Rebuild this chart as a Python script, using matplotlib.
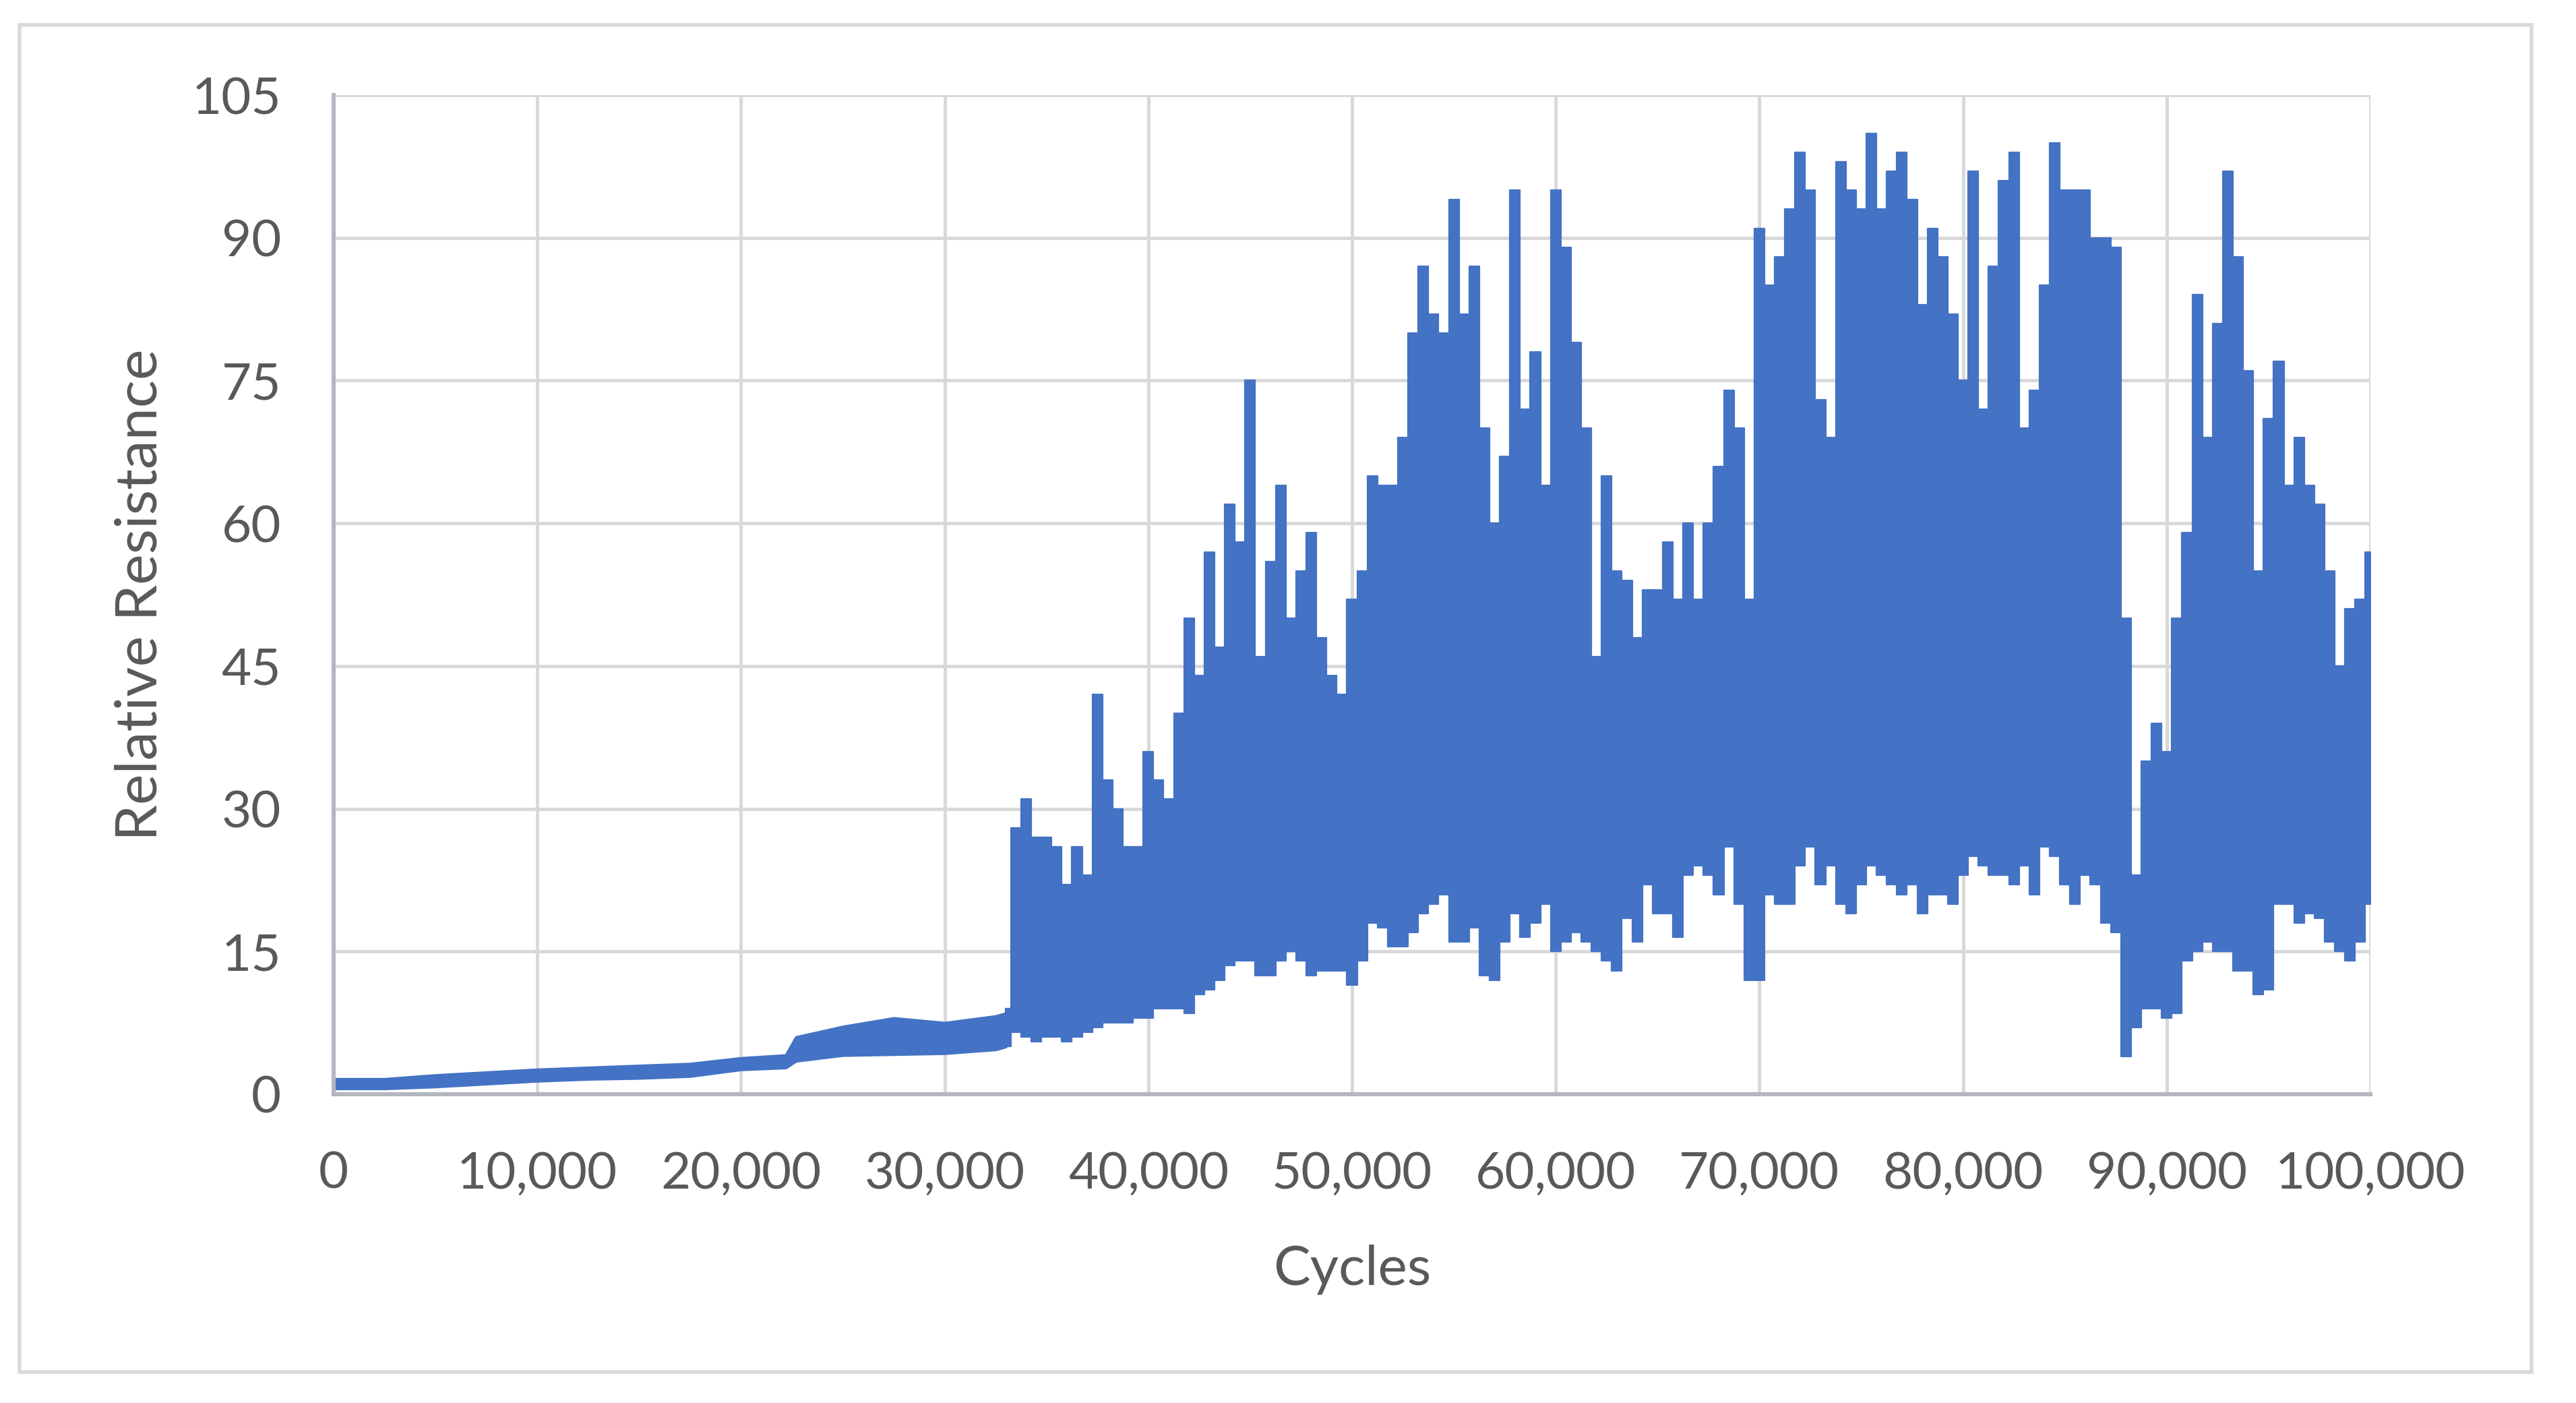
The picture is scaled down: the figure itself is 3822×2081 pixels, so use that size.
import numpy as np
import matplotlib.pyplot as plt
from matplotlib.patches import Rectangle
from matplotlib.ticker import FuncFormatter

plt.rcParams['font.family'] = 'Lato'

# Early part of the test (slow drift), band
early_cycles = [0, 2500, 5000, 7500, 10000, 12500, 15000, 17500, 20000,
                22200, 22700, 25000, 27500, 30000, 32500, 33000]
early_high = [1.6, 1.6, 2.0, 2.3, 2.6, 2.8, 3.0, 3.2, 3.8,
              4.1, 6.0, 7.1, 8.0, 7.5, 8.2, 8.5]
early_low = [0.6, 0.6, 0.8, 1.1, 1.4, 1.6, 1.7, 1.9, 2.6,
             2.8, 3.5, 4.1, 4.2, 4.3, 4.7, 5.0]

# After 33,000 cycles: upper / lower extent every 500 cycles
cycles = np.arange(33000, 100001, 500)
peak = [9, 28, 31, 27, 27, 26, 22, 26, 23,
        42, 33, 30, 26, 26, 36, 33, 31, 40,
        50, 44, 57, 47, 62, 58, 75, 46, 56,
        64, 50, 55, 59, 48, 44, 42, 52, 55,
        65, 64, 64, 69, 80, 87, 82, 80, 94,
        82, 87, 70, 60, 67, 95, 72, 78, 64,
        95, 89, 79, 70, 46, 65, 55, 54, 48,
        53, 53, 58, 52, 60, 52, 60, 66, 74,
        70, 52, 91, 85, 88, 93, 99, 95, 73,
        69, 98, 95, 93, 101, 93, 97, 99, 94,
        83, 91, 88, 82, 75, 97, 72, 87, 96,
        99, 70, 74, 85, 100, 95, 95, 95, 90,
        90, 89, 50, 23, 35, 39, 36, 50, 59,
        84, 69, 81, 97, 88, 76, 55, 71, 77,
        64, 69, 64, 62, 55, 45, 51, 52, 57]
trough = [5, 6.5, 6, 5.5, 6, 6, 5.5, 6, 6.5,
          7, 7.5, 7.5, 7.5, 8, 8, 9, 9, 9,
          8.5, 10.5, 11, 12, 13.5, 14, 14, 12.5, 12.5,
          14, 15, 14, 12.5, 13, 13, 13, 11.5, 14,
          18, 17.5, 15.5, 15.5, 17, 19, 20, 21, 16,
          16, 17.5, 12.5, 12, 16, 19, 16.5, 18, 20,
          15, 16, 17, 16, 15, 14, 13, 18.5, 16,
          22, 19, 19, 16.5, 23, 24, 23, 21, 26,
          20, 12, 12, 21, 20, 20, 24, 26, 22,
          24, 20, 19, 22, 24, 23, 22, 21, 22,
          19, 21, 21, 20, 23, 25, 24, 23, 23,
          22, 24, 21, 26, 25, 22, 20, 23, 22,
          18, 17, 4, 7, 9, 9, 8, 8.5, 14,
          15, 16, 15, 15, 13, 13, 10.5, 11, 20,
          20, 18, 19, 18.5, 16, 15, 14, 16, 20]

blue = '#4472C4'
text_col = '#595959'

fig = plt.figure(figsize=(19.11, 10.405), dpi=200)
ax = fig.add_axes([0.1295, 0.2201, 0.7907, 0.7121])

ax.fill_between(early_cycles, early_low, early_high, color=blue, lw=1.5, edgecolor=blue)
ax.fill_between(cycles, trough, peak, step='mid', color=blue, lw=0.8, edgecolor=blue)

ax.set_xlim(0, 100000)
ax.set_ylim(0, 105)
ax.set_xticks(np.arange(0, 100001, 10000))
ax.set_yticks(np.arange(0, 106, 15))
ax.xaxis.set_major_formatter(FuncFormatter(lambda v, p: f'{int(v):,}'))

ax.set_axisbelow(True)
ax.grid(True, color='#d9d9d9', lw=1.8)
for s in ['top', 'right']:
    ax.spines[s].set_visible(False)
for s in ['left', 'bottom']:
    ax.spines[s].set_color('#b4b7bf')
    ax.spines[s].set_linewidth(2.2)

ax.tick_params(length=0, labelsize=27.5, labelcolor=text_col)
ax.tick_params(axis='x', pad=30)
ax.tick_params(axis='y', pad=28)

ax.set_xlabel('Cycles', fontsize=29.5, color=text_col)
ax.set_ylabel('Relative Resistance', fontsize=31, color=text_col)
ax.xaxis.set_label_coords(0.5, -0.15)
ax.yaxis.set_label_coords(-0.082, 0.5)

fig.patches.append(Rectangle((0.0076, 0.022), 0.9751, 0.960, transform=fig.transFigure,
                             fill=False, edgecolor='#d9d9d9', lw=2))

fig.savefig('out.png', dpi=200, facecolor='white')
